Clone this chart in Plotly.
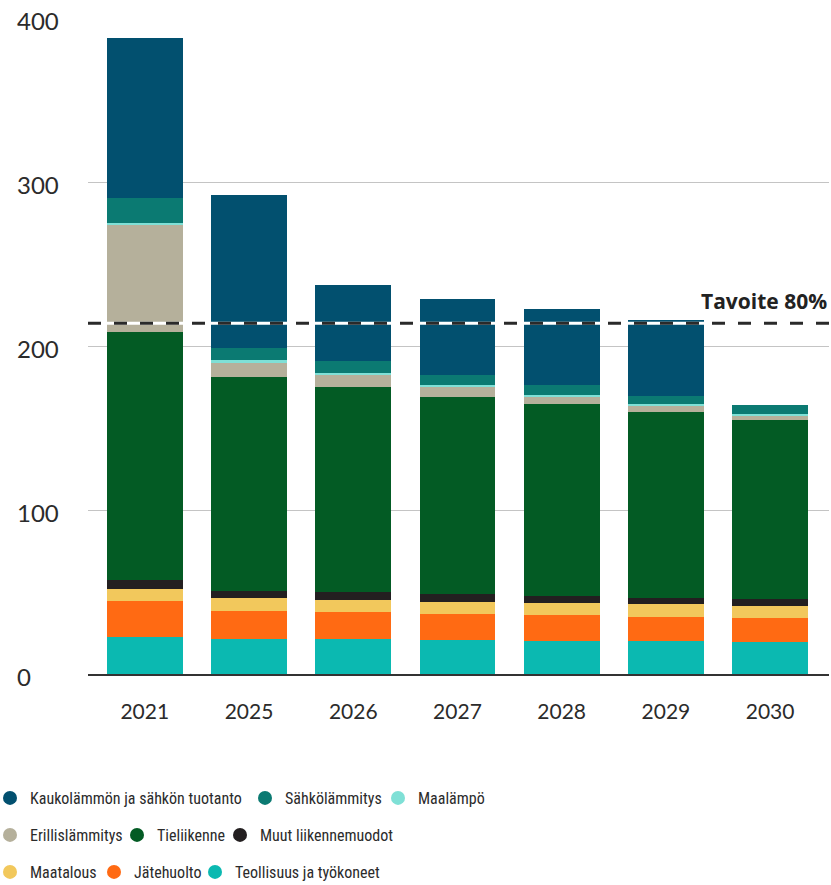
import plotly.graph_objects as go

categories = ["2021", "2025", "2026", "2027", "2028", "2029", "2030"]

teollisuus = [22.6, 21.2, 21.2, 20.7, 20.1, 20.1, 19.5]
jatehuolto = [21.9, 17.2, 16.6, 15.9, 15.9, 14.7, 14.7]
maatalous = [7.4, 8.0, 7.3, 7.3, 7.3, 7.9, 7.3]
muut_liikenne = [5.4, 4.2, 4.9, 4.9, 4.3, 3.7, 4.3]
tieliikenne = [151.3, 130.6, 125.1, 120.2, 117.1, 113.4, 109.1]
erillislammitys = [65.9, 9.1, 7.3, 6.1, 4.3, 3.7, 2.5]
maalampo = [0.6, 1.2, 1.2, 1.2, 1.2, 1.2, 1.2]
sahkolammitys = [15.3, 7.4, 7.3, 6.1, 6.1, 4.9, 5.5]
kaukolampo = [97.6, 93.3, 46.4, 46.4, 46.4, 46.4, 0]

target_value = 214
target_label = "Tavoite 80%"
y_ticks = [0, 100, 200, 300, 400]

# stacking order bottom -> top: (name, values, colour)
series = [
    ("Teollisuus ja työkoneet", teollisuus, "#0BB9B1"),
    ("Jätehuolto", jatehuolto, "#FF6A13"),
    ("Maatalous", maatalous, "#F2C85C"),
    ("Muut liikennemuodot", muut_liikenne, "#231F20"),
    ("Tieliikenne", tieliikenne, "#035B24"),
    ("Erillislämmitys", erillislammitys, "#B5B09B"),
    ("Maalämpö", maalampo, "#7FE0D6"),
    ("Sähkölämmitys", sahkolammitys, "#0B7A72"),
    ("Kaukolämmön ja sähkön tuotanto", kaukolampo, "#02506F"),
]

# legend rows as in the reference
legend_rows = [
    ["Kaukolämmön ja sähkön tuotanto", "Sähkölämmitys", "Maalämpö"],
    ["Erillislämmitys", "Tieliikenne", "Muut liikennemuodot"],
    ["Maatalous", "Jätehuolto", "Teollisuus ja työkoneet"],
]
legend_row_px = [798, 835, 872]
legend_item_px = [[17, 272, 405], [17, 144, 247], [17, 121, 222]]

FONT = "Lato, 'Open Sans', sans-serif"
LEGEND_FONT = "'Roboto Condensed', Roboto, sans-serif"
TEXT = "#2B2B2B"

W, H = 831, 885
ml, mr, mt, mb = 88, 2, 18, 211
pw = W - ml - mr
ph = H - mt - mb


def px_x(px):
    return (px - ml) / pw


def px_y(py):
    return (H - mb - py) / ph


fig = go.Figure()
for name, vals, color in series:
    fig.add_trace(go.Bar(
        x=categories, y=vals, name=name,
        marker=dict(color=color, line=dict(width=0)),
        showlegend=False, hoverinfo="x+y+name",
    ))

lookup = {s[0]: s for s in series}
legend_layouts = {}
k = 0
for r, row in enumerate(legend_rows):
    for c, name in enumerate(row):
        k += 1
        key = "legend" if k == 1 else f"legend{k}"
        color = lookup[name][2]
        fig.add_trace(go.Scatter(
            x=[None], y=[None], mode="markers", name=name,
            marker=dict(symbol="circle", size=14, color=color),
            legend=key, showlegend=True,
        ))
        legend_layouts[key] = dict(
            x=px_x(legend_item_px[r][c] - 27), y=px_y(legend_row_px[r]),
            orientation="h", xanchor="left", yanchor="middle",
            font=dict(family=LEGEND_FONT, size=16, color=TEXT),
            bgcolor="rgba(0,0,0,0)", itemclick=False, itemdoubleclick=False,
            borderwidth=0,
        )

fig.update_layout(
    width=W, height=H,
    margin=dict(l=ml, r=mr, t=mt, b=mb, pad=0, autoexpand=False),
    paper_bgcolor="white", plot_bgcolor="white",
    barmode="stack", bargap=0.273,
    font=dict(family=FONT, color=TEXT),
    xaxis=dict(
        type="category", range=[-0.545, 6.565],
        showgrid=False, showline=True, linecolor="#333333", linewidth=2,
        ticks="", tickfont=dict(family=FONT, size=21, color=TEXT),
        ticklabelstandoff=18, zeroline=False,
    ),
    yaxis=dict(
        range=[0, ph / 1.6393], tickvals=y_ticks, showticklabels=False,
        showgrid=True, gridcolor="#C4C4C4", gridwidth=1.2,
        zeroline=False, showline=False, ticks="",
    ),
    shapes=[
        dict(type="line", xref="paper", yref="y", x0=0, x1=1,
             y0=target_value, y1=target_value, layer="above",
             line=dict(color="white", width=3)),
        dict(type="line", xref="paper", yref="y", x0=0, x1=1,
             y0=target_value, y1=target_value, layer="above",
             line=dict(color="#2A2A2A", width=3, dash="13px,13px")),
    ],
    **legend_layouts,
)

annotations = []
for v in y_ticks:
    annotations.append(dict(
        x=px_x(15), xref="paper", y=v, yref="y", text=str(v),
        showarrow=False, xanchor="left", yanchor="middle", yshift=-2,
        font=dict(family=FONT, size=24, color=TEXT),
    ))
annotations.append(dict(
    x=px_x(829), xref="paper", y=target_value, yref="y",
    text="<b>" + target_label + "</b>", showarrow=False,
    xanchor="right", yanchor="bottom", yshift=6,
    font=dict(family="'Open Sans', Lato, sans-serif", size=21, color="#222222"),
))
fig.update_layout(annotations=annotations)

fig.write_html(
    "out.html",
    config={"displayModeBar": False},
    post_script="document.body.style.margin='0';document.body.style.overflow='hidden';",
)
